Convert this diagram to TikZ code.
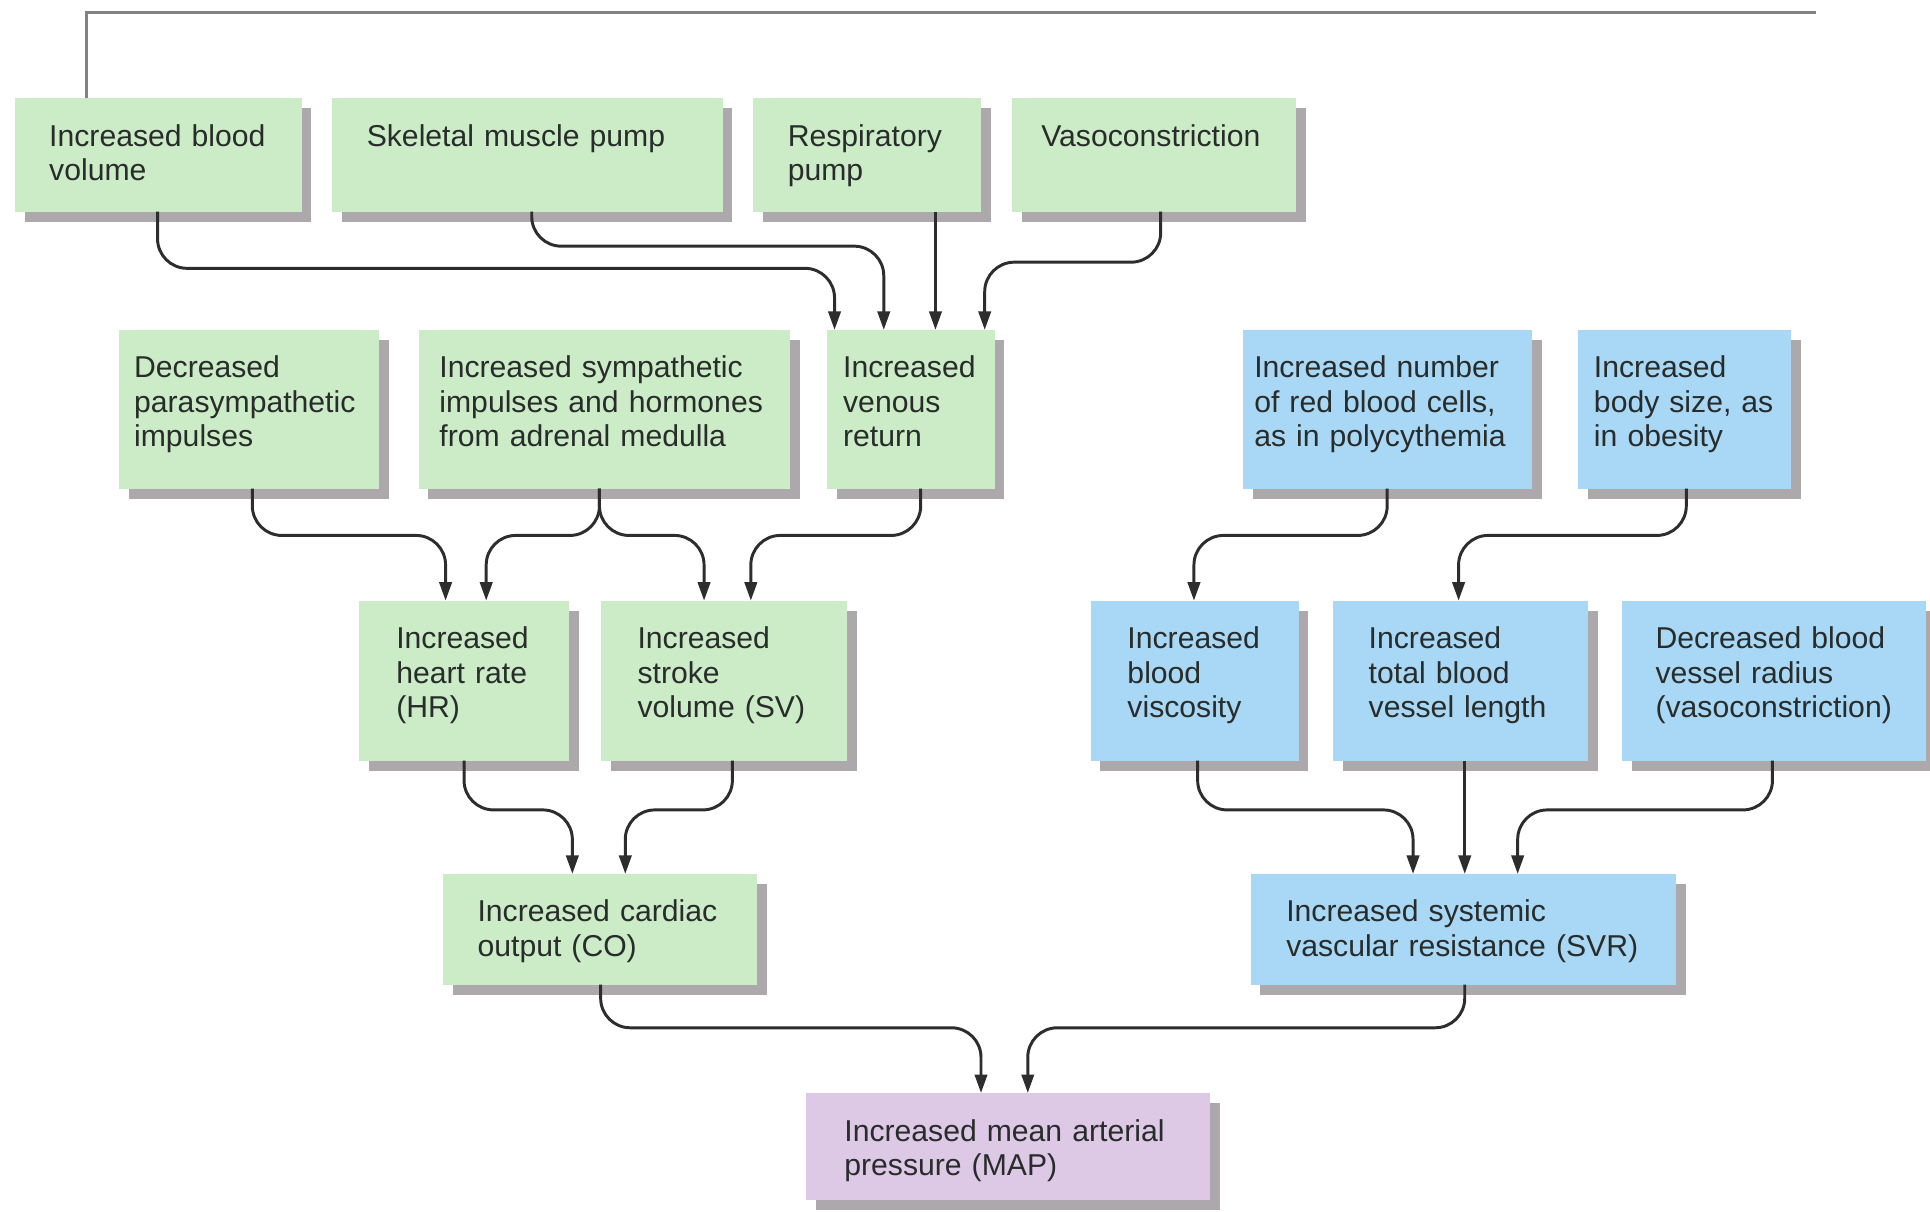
\documentclass[tikz,border=0pt]{standalone}
\usepackage{fontspec}
\setmainfont{Liberation Sans}
\usetikzlibrary{arrows.meta,shadows}

\definecolor{boxgreen}{RGB}{204,235,199}
\definecolor{boxblue}{RGB}{168,216,245}
\definecolor{boxpurple}{RGB}{221,200,230}
\definecolor{shadowgray}{RGB}{172,168,172}
\definecolor{linegray}{RGB}{130,130,130}
\definecolor{ink}{RGB}{40,44,42}
\definecolor{flowink}{RGB}{45,45,45}

\begin{document}
\begin{tikzpicture}[x=1pt,y=1pt,yscale=-1,xscale=1,
  box/.style={anchor=north west, rectangle, inner xsep=#1, inner ysep=0pt, outer sep=0pt,
    align=left, text height=39pt, text=ink, font=\fontsize{24.5}{28}\selectfont,
    drop shadow={shadow xshift=8pt, shadow yshift=-8pt, fill=shadowgray, opacity=1}},
  gbox/.style={box=#1, fill=boxgreen},
  bbox/.style={box=#1, fill=boxblue},
  pbox/.style={box=#1, fill=boxpurple},
  flow/.style={draw=flowink, line width=2.4pt, rounded corners=24pt, -{Triangle[length=15pt,width=10pt]}},
  feedback/.style={draw=linegray, line width=2.2pt}]
\useasboundingbox (0,0) rectangle (1568,984);

% Top row: venous return causes
\node[gbox=28, text width=177pt, text depth=53pt] (blood) at (12,80) {Increased blood\\volume};
\node[gbox=28, text width=261pt, text depth=53pt] (skeletal) at (270,80) {Skeletal muscle pump};
\node[gbox=28, text width=129pt, text depth=53pt] (resp) at (612,80) {Respiratory\\pump};
\node[gbox=24, text width=183pt, text depth=53pt] (vaso) at (822,80) {Vasoconstriction};

% Second row
\node[gbox=12, text width=187pt, text depth=90pt] (parasym) at (97,268) {Decreased\\parasympathetic\\impulses};
\node[gbox=17, text width=268pt, text depth=90pt] (symp) at (340,268) {Increased sympathetic\\impulses and hormones\\from adrenal medulla};
\node[gbox=13, text width=110pt, text depth=90pt] (venous) at (672,268) {Increased\\venous\\return};
\node[bbox=9, text width=217pt, text depth=90pt] (rbc) at (1010,268) {Increased number\\of red blood cells,\\as in polycythemia};
\node[bbox=13, text width=147pt, text depth=90pt] (body) at (1282,268) {Increased\\body size, as\\in obesity};

% Third row
\node[gbox=30, text width=110pt, text depth=91pt] (hr) at (292,488) {Increased\\heart rate\\(HR)};
\node[gbox=30, text width=140pt, text depth=91pt] (sv) at (488,488) {Increased\\stroke\\volume (SV)};
\node[bbox=30, text width=109pt, text depth=91pt] (visc) at (886,488) {Increased\\blood\\viscosity};
\node[bbox=29, text width=149pt, text depth=91pt] (length) at (1083,488) {Increased\\total blood\\vessel length};
\node[bbox=27, text width=193pt, text depth=91pt] (radius) at (1318,488) {Decreased blood\\vessel radius\\(vasoconstriction)};

% Fourth row
\node[gbox=28, text width=199pt, text depth=51pt] (co) at (360,710) {Increased cardiac\\output (CO)};
\node[bbox=29, text width=288pt, text depth=51pt] (svr) at (1016,710) {Increased systemic\\vascular resistance (SVR)};

% Result
\node[pbox=31, text width=266pt, text depth=48pt] (map) at (655,888) {Increased mean arterial\\pressure (MAP)};

% Feedback line
\coordinate (loopend) at (1475,10);
\draw[feedback] (blood.north -| 70,0) |- (loopend);

% Arrows into venous return
\draw[flow] (blood.south -| 128,0) -- (128,218) -- (678,218) -- (venous.north -| 678,0);
\draw[flow] (skeletal.south -| 432,0) -- (432,200) -- (718,200) -- (venous.north -| 718,0);
\draw[flow] (resp.south -| 760,0) -- (venous.north -| 760,0);
\draw[flow] (vaso.south -| 943,0) -- (943,213) -- (800,213) -- (venous.north -| 800,0);

% Arrows into HR and SV
\draw[flow] (parasym.south -| 205,0) -- (205,435) -- (362,435) -- (hr.north -| 362,0);
\draw[flow] (symp.south -| 487,0) -- (487,435) -- (395,435) -- (hr.north -| 395,0);
\draw[flow] (symp.south -| 487,0) -- (487,435) -- (572,435) -- (sv.north -| 572,0);
\draw[flow] (venous.south -| 748,0) -- (748,435) -- (610,435) -- (sv.north -| 610,0);

% Arrows into viscosity and vessel length
\draw[flow] (rbc.south -| 1127,0) -- (1127,435) -- (970,435) -- (visc.north -| 970,0);
\draw[flow] (body.south -| 1370,0) -- (1370,435) -- (1185,435) -- (length.north -| 1185,0);

% Arrows into CO and SVR
\draw[flow] (hr.south -| 377,0) -- (377,658) -- (465,658) -- (co.north -| 465,0);
\draw[flow] (sv.south -| 595,0) -- (595,658) -- (508,658) -- (co.north -| 508,0);
\draw[flow] (visc.south -| 973,0) -- (973,658) -- (1148,658) -- (svr.north -| 1148,0);
\draw[flow] (length.south -| 1190,0) -- (svr.north -| 1190,0);
\draw[flow] (radius.south -| 1440,0) -- (1440,658) -- (1233,658) -- (svr.north -| 1233,0);

% Arrows into MAP
\draw[flow] (co.south -| 488,0) -- (488,835) -- (797,835) -- (map.north -| 797,0);
\draw[flow] (svr.south -| 1190,0) -- (1190,835) -- (835,835) -- (map.north -| 835,0);

\end{tikzpicture}
\end{document}
